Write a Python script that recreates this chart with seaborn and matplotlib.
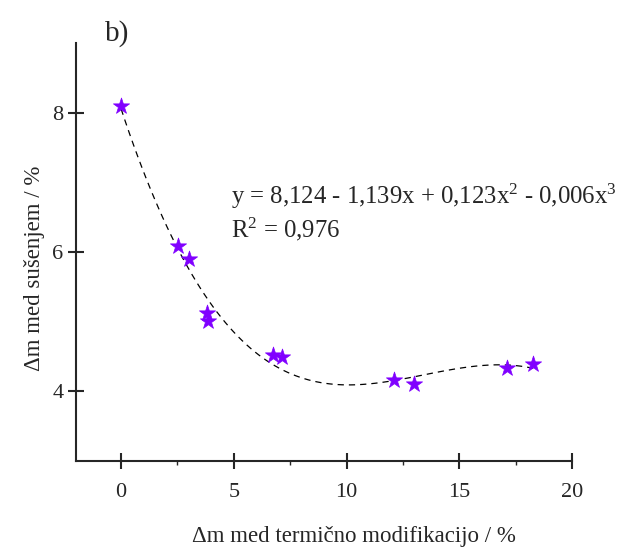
import numpy as np
import pandas as pd
import matplotlib
matplotlib.use("Agg")
import matplotlib.pyplot as plt
import seaborn as sns
from matplotlib.ticker import MultipleLocator

# values
mass_loss_tm = [0.0, 2.54, 3.02, 3.81, 3.87, 6.75, 7.14, 12.11, 12.99, 17.12, 18.28]
mass_loss_dry = [8.10, 6.09, 5.90, 5.13, 5.01, 4.52, 4.50, 4.17, 4.10, 4.33, 4.39]
x_ticks = [0, 5, 10, 15, 20]
y_ticks = [4, 6, 8]

df = pd.DataFrame({"tm": mass_loss_tm, "dry": mass_loss_dry})

sns.set_style("ticks")
plt.rcParams["font.family"] = ["Liberation Serif", "DejaVu Serif"]
plt.rcParams["mathtext.fontset"] = "custom"
plt.rcParams["mathtext.rm"] = "Liberation Serif"
plt.rcParams["mathtext.it"] = "Liberation Serif:italic"

W, H = 620, 551
fig = plt.figure(figsize=(6.2, 5.51), dpi=100)
ax = fig.add_axes([0.1226, 0.1633, 0.80, 0.7587])

# cubic fit, dashed
sns.regplot(data=df, x="tm", y="dry", order=3, ci=None, scatter=False, ax=ax,
            line_kws=dict(color="black", lw=0.9, ls=(0, (5, 4))))
sns.scatterplot(data=df, x="tm", y="dry", marker="*", s=150, color="#8000ff",
                edgecolor="#8000ff", linewidth=0.5, ax=ax, zorder=3)

ax.set_xlim(-2, 20)
ax.set_ylim(3, 9)
ax.set_xticks(x_ticks)
ax.set_yticks(y_ticks)
ax.xaxis.set_minor_locator(MultipleLocator(2.5))
ax.tick_params(which="major", direction="inout", length=12, width=1.5, labelsize=16, pad=4)
ax.tick_params(axis="x", which="minor", direction="out", length=3, width=1)
ax.tick_params(axis="x", which="major", pad=10)
ax.tick_params(axis="y", which="major", pad=3)
sns.despine(ax=ax)
ax.spines["left"].set_linewidth(1.5)
ax.spines["bottom"].set_linewidth(1.5)

ax.set_xlabel("Δm med termično modifikacijo / %", fontsize=16.5)
ax.set_ylabel("Δm med sušenjem / %", fontsize=16.5)
ax.xaxis.set_label_coords(0.56, -0.155)
ax.yaxis.set_label_coords(-0.062, 0.46)

fig.text(231 / W, 1 - 196 / H, "y = 8,124 - 1,139x + 0,123x$^2$ - 0,006x$^3$",
         fontsize=17.8, va="center", ha="left")
fig.text(231 / W, 1 - 229 / H, "R$^2$ = 0,976", fontsize=17.8, va="center", ha="left")

fig.text(105 / W, 1 - 34 / H, "b)", fontsize=21, va="center", ha="left")

fig.savefig("out.png", dpi=100)
